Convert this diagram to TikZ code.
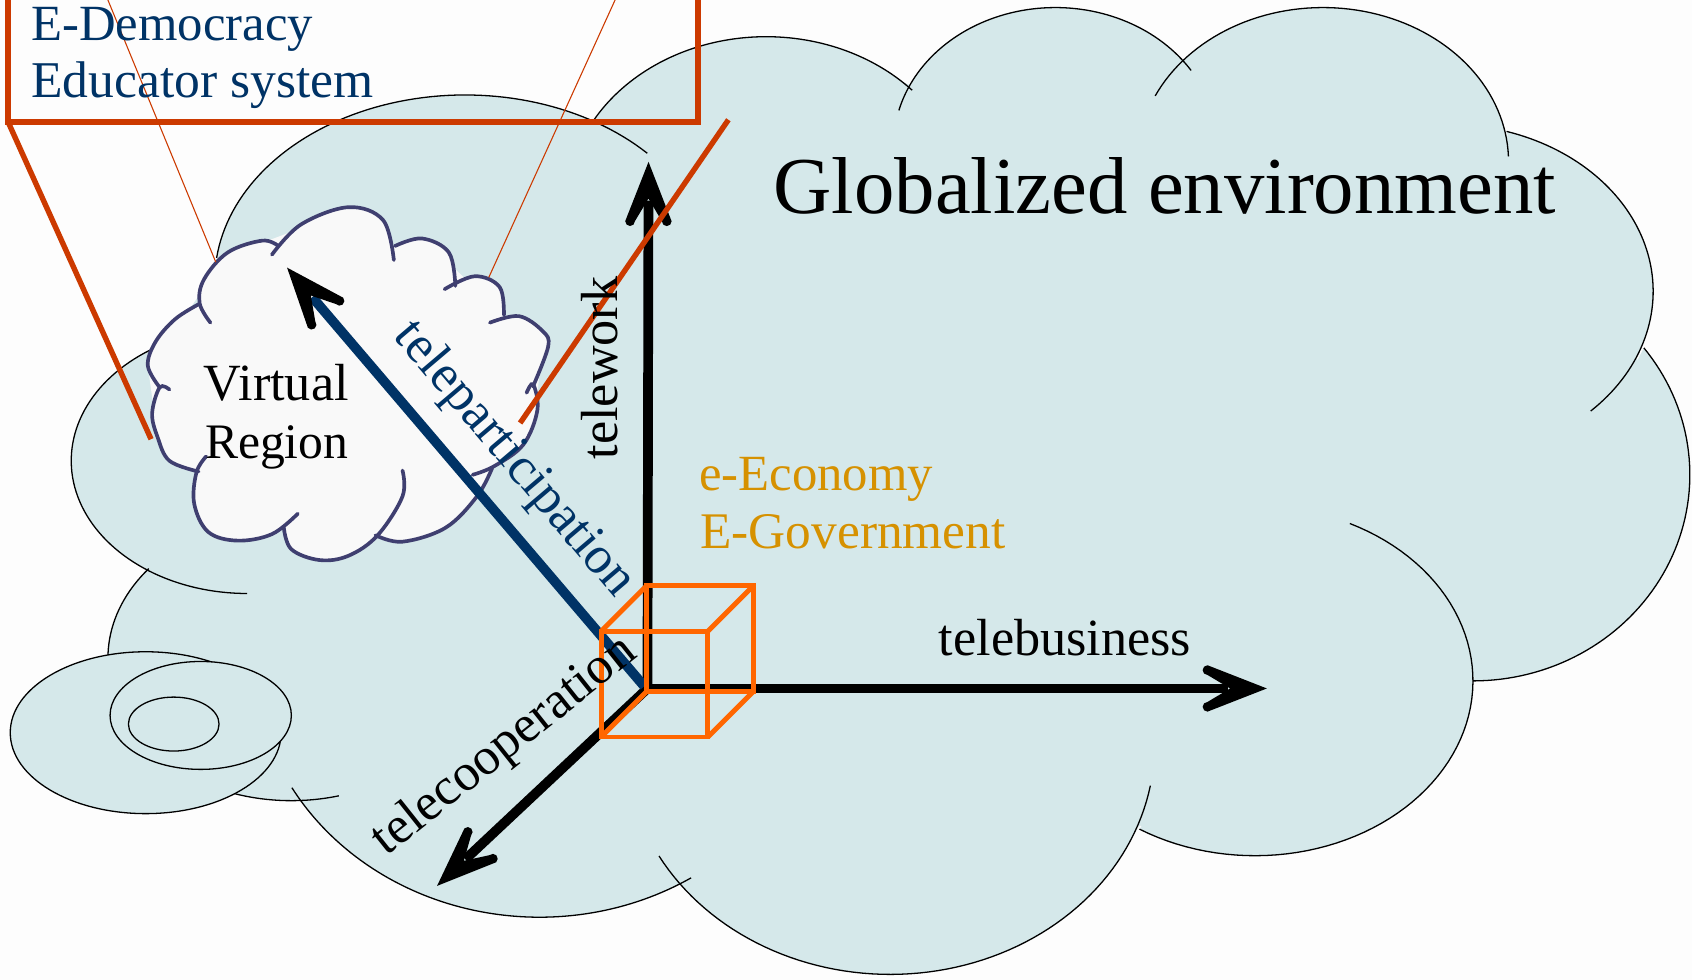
\documentclass[tikz,border=0pt]{standalone}
\usepackage{fontspec}
\setmainfont{Liberation Serif}
\usetikzlibrary{arrows.meta,shapes.geometric}
\pgfdeclarearrow{
  name=Barb,
  setup code={\pgfarrowssettipend{0pt}\pgfarrowssetlineend{-18pt}\pgfarrowssetbackend{-31pt}},
  drawing code={
    \pgfpathmoveto{\pgfpoint{0pt}{0pt}}
    \pgfpathlineto{\pgfpoint{-27.5pt}{10.75pt}}
    \pgfpathlineto{\pgfpoint{-27.5pt}{6.25pt}}
    \pgfpathlineto{\pgfpoint{-17pt}{0pt}}
    \pgfpathlineto{\pgfpoint{-27.5pt}{-6.25pt}}
    \pgfpathlineto{\pgfpoint{-27.5pt}{-10.75pt}}
    \pgfpathclose
    \pgfpathcircle{\pgfpoint{-27.5pt}{8.5pt}}{2.25pt}
    \pgfpathcircle{\pgfpoint{-27.5pt}{-8.5pt}}{2.25pt}
    \pgfsetfillcolor{pgfstrokecolor}
    \pgfusepathqfill
  }
}
\definecolor{bgc}{HTML}{FDFDFD}
\definecolor{cloudc}{HTML}{D5E8EA}
\definecolor{vrfill}{HTML}{F9F9F9}
\definecolor{vrline}{HTML}{3F3F70}
\definecolor{redc}{HTML}{CC3A00}
\definecolor{bluec}{HTML}{003366}
\definecolor{orangec}{HTML}{FF6600}
\definecolor{goldc}{HTML}{D69100}
\tikzset{
  cloudedge/.style={draw=black,line width=0.6pt},
  vredge/.style={draw=vrline,line width=1.7pt,line cap=round},
  axisline/.style={line width=4.5pt,-Barb},
  funnel/.style={draw=redc,line width=2.5pt},
  thinred/.style={draw=redc,line width=0.5pt},
  ovalshape/.style={draw=black,line width=0.6pt,fill=cloudc,shape=ellipse,inner sep=0pt},
  lab/.style={inner sep=0pt,outer sep=0pt,anchor=base west,font=\fontsize{23.5pt}{27pt}\selectfont},
  alab/.style={inner sep=0pt,outer sep=0pt,anchor=center,font=\fontsize{24.5pt}{28pt}\selectfont},
}
\newcommand{\Smooth}[1]{plot[smooth,tension=0.6] coordinates {#1}}
\newcommand{\EArc}[6]{plot[domain=#5:#6,samples=70,variable=\t] ({#1+#3*cos(\t)},{#2+#4*sin(\t)})}
\newcommand{\OuterLobes}{%
\LOBE{229}{427}{163}{123}{90}{236.5}%
\LOBE{431}{260}{232}{172}{187}{316.7}%
\LOBE{710}{190}{185}{156}{210}{317}%
\LOBE{978}{135}{150}{128}{194.8}{327}%
\LOBE{1226}{150}{172}{143}{205.3}{358}%
\LOBE{1340}{270}{192}{155}{287}{405.7}%
\LOBE{1365}{440}{201}{191}{-38}{90}%
\LOBE{1163}{631}{202}{162}{-64.2}{122}%
\LOBE{825}{690}{245}{213}{10.3}{151}%
\LOBE{500}{610}{265}{240}{58}{150}%
\LOBE{270}{610}{170}{132}{75}{219}%
}
\newcommand{\VRLobes}{%
\VLOBE{(195,299)(185,281)(189,259)(211,234)(243,223)(258,228)}%
\VLOBE{(252,236)(279,208)(323,192)(355,204)(365,241)}%
\VLOBE{(366,228)(391,221)(416,234)(422,265)}%
\VLOBE{(412,268)(440,256)(463,266)(467,292)}%
\VLOBE{(454,299)(481,293)(503,307)(508,321)(494,358)}%
\VLOBE{(488,364)(494,356)(498,380)(485,412)(458,432)(438,440)}%
\VLOBE{(456,434)(442,460)(413,489)(373,502)(348,496)}%
\VLOBE{(373,436)(373,460)(350,496)(323,515)(296,519)(270,509)(263,489)}%
\VLOBE{(276,476)(252,495)(220,501)(193,493)(180,467)(182,438)(191,423)}%
\VLOBE{(184,437)(157,427)(146,405)(141,383)(148,359)(157,361)}%
\VLOBE{(148,359)(137,339)(144,317)(162,296)(184,282)}%
}
\begin{document}
\begin{tikzpicture}[x=0.5pt,y=-0.5pt]
\useasboundingbox (0,0) rectangle (1568,908);
\fill[bgc] (0,0) rectangle (1568,908);
% outer cloud fill, then outlines
\fill[cloudc] (100,400) -- (150,325) -- (207,240) -- (320,118) -- (431,92) -- (553,115) -- (640,55) -- (760,45) -- (846,80) -- (920,30) -- (1040,30) -- (1095,70) -- (1160,25) -- (1290,30) -- (1396,125) -- (1500,220) -- (1516,330) -- (1560,440) -- (1450,605) -- (1365,628) -- (1290,745) -- (1163,788) -- (1056,765) -- (1000,835) -- (830,898) -- (680,860) -- (635,815) -- (500,845) -- (355,805) -- (280,735) -- (215,732) -- (110,610) -- (145,535) -- (120,505) -- (70,430) -- cycle;
\def\LOBE#1#2#3#4#5#6{\fill[cloudc] \EArc{#1}{#2}{#3}{#4}{#5}{#6} -- cycle;}
\OuterLobes
\def\LOBE#1#2#3#4#5#6{\path[cloudedge] \EArc{#1}{#2}{#3}{#4}{#5}{#6};}
\OuterLobes
% ovals
\node[ovalshape,minimum width=125.5pt,minimum height=75pt] (ovalA) at (135,679) {};
\node[ovalshape,minimum width=84pt,minimum height=50pt] (ovalB) at (186,663) {};
\node[ovalshape,minimum width=42pt,minimum height=25pt] (ovalC) at (161,671) {};
% virtual region
\fill[vrfill] (184,282) -- (195,260) -- (243,225) -- (323,195) -- (365,228) -- (412,240) -- (435,262) -- (467,292) -- (503,307) -- (497,380) -- (458,432) -- (413,489) -- (350,496) -- (296,517) -- (263,489) -- (220,499) -- (182,438) -- (146,405) -- (137,339) -- (162,296) -- cycle;
\def\VLOBE#1{\fill[vrfill] \Smooth{#1} -- cycle;}
\VRLobes
\def\VLOBE#1{\path[vredge] \Smooth{#1};}
\VRLobes
% top box (open, unfilled, runs off the picture)
\draw[funnel] (7.5,-10) -- (7.5,113) -- (647,113) -- (647,-10);
% coordinates
\coordinate (o) at (600,638);
\coordinate (oblue) at (597,636);
\coordinate (tipU) at (601,150);
\coordinate (tipR) at (1174,638);
\coordinate (tipD) at (405,821);
\coordinate (tipB) at (266,248);
\coordinate (fL0) at (7.5,113);
\coordinate (fL1) at (140,407);
\coordinate (fR0) at (675,111);
\coordinate (fR1) at (482,392);
\coordinate (tL0) at (100,0);
\coordinate (tL1) at (200,243);
\coordinate (tR0) at (570,0);
\coordinate (tR1) at (453,257);
% axes
\draw[axisline,black] (o) -- (tipU);
\draw[axisline,black] (o) -- (tipR);
\draw[axisline,black] (o) -- (tipD);
\draw[axisline,bluec] (oblue) -- (tipB);
% thin and thick red lines
\draw[thinred] (tL0) -- (tL1);
\draw[thinred] (tR0) -- (tR1);
\draw[funnel] (fL0) -- (fL1);
\draw[funnel] (fR0) -- (fR1);
% cube
\begin{scope}[draw=orangec,line width=2.3pt,line join=miter]
\coordinate (c1) at (557,585);\coordinate (c2) at (656,585);\coordinate (c3) at (656,683);\coordinate (c4) at (557,683);
\coordinate (d1) at (599,543);\coordinate (d2) at (698,543);\coordinate (d3) at (698,641);\coordinate (d4) at (599,641);
\draw (c1) -- (c2) -- (c3) -- (c4) -- cycle;
\draw (d1) -- (d2) -- (d3) -- (d4) -- cycle;
\draw (c1) -- (d1);\draw (c2) -- (d2);\draw (c3) -- (d3);\draw (c4) -- (d4);
\end{scope}
% texts
\node[lab,text=bluec] (edem) at (29,38) {E-Democracy};
\node[lab,text=bluec,font=\fontsize{23.9pt}{27pt}\selectfont] (edu) at (29,90) {Educator system};
\node[lab,font=\fontsize{37.4pt}{42pt}\selectfont] (glob) at (717,198) {Globalized environment};
\node[lab,font=\fontsize{24.2pt}{27pt}\selectfont] (virt) at (189,371) {Virtual};
\node[lab,font=\fontsize{23pt}{27pt}\selectfont] (reg) at (190,425) {Region};
\node[lab,text=goldc] (eeco) at (648,455) {e-Economy};
\node[lab,text=goldc,font=\fontsize{23.8pt}{27pt}\selectfont] (egov) at (649,508) {E-Government};
\node[lab,font=\fontsize{24.2pt}{27pt}\selectfont] (tb) at (870,607) {telebusiness};
\node[alab,rotate=90,font=\fontsize{24.2pt}{27pt}\selectfont] (tw) at (556,341) {telework};
\node[alab,rotate=-49.7,text=bluec] (tp) at (476,426) {teleparticipation};
\node[alab,rotate=38.5,font=\fontsize{24.2pt}{27pt}\selectfont] (tc) at (468,692) {telecooperation};
\end{tikzpicture}
\end{document}
